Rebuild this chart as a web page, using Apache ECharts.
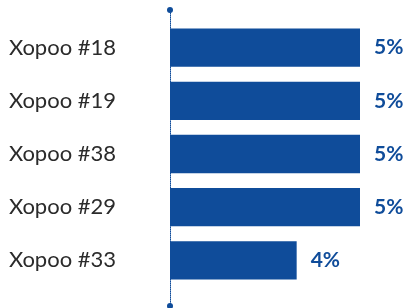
<!DOCTYPE html>
<html>
<head>
<meta charset="utf-8">
<script src="https://cdn.jsdelivr.net/npm/echarts@6/dist/echarts.min.js"></script>
<style>
html, body { margin: 0; padding: 0; background: #fff; }
#chart { width: 405px; height: 308px; }
</style>
</head>
<body>
<div id="chart"></div>
<script>
// 数据
var categories = ['Xopoo #18', 'Xopoo #19', 'Xopoo #38', 'Xopoo #29', 'Xopoo #33'];
var shares = [5, 5, 5, 5, 4];

var blue = '#0f4c9a';
var myChart = echarts.init(document.getElementById('chart'));

var option = {
	animation: false,
	grid: [
		{ left: 170, right: 45, top: 21, bottom: 21 },
		// 只画那条带圆点的虚线轴
		{ left: 170, right: 45, top: 10, bottom: 2 }
	],
	xAxis: [
		{
			type: 'value',
			gridIndex: 0,
			min: 2,
			max: 5,
			show: false
		},
		{
			type: 'value',
			gridIndex: 1,
			show: false
		}
	],
	yAxis: [
		{
			type: 'category',
			gridIndex: 0,
			inverse: true,
			data: categories,
			axisLine: { show: false },
			axisTick: { show: false },
			axisLabel: {
				align: 'left',
				margin: 161,
				fontSize: 22,
				fontFamily: 'Lato',
				color: '#2b2b2b'
			}
		},
		{
			type: 'value',
			gridIndex: 1,
			axisLine: {
				show: true,
				symbol: ['circle', 'circle'],
				symbolSize: [6, 6],
				lineStyle: { color: blue, type: 'dotted', width: 1 }
			},
			axisTick: { show: false },
			axisLabel: { show: false },
			splitLine: { show: false }
		}
	],
	series: [
		{
			type: 'bar',
			xAxisIndex: 0,
			yAxisIndex: 0,
			data: shares,
			barCategoryGap: '28%',
			itemStyle: { color: blue },
			label: {
				show: true,
				position: 'right',
				distance: 14,
				formatter: '{c}%',
				fontSize: 21,
				fontWeight: 'bold',
				fontFamily: 'Lato',
				color: blue
			}
		}
	]
};

myChart.setOption(option);
</script>
</body>
</html>
